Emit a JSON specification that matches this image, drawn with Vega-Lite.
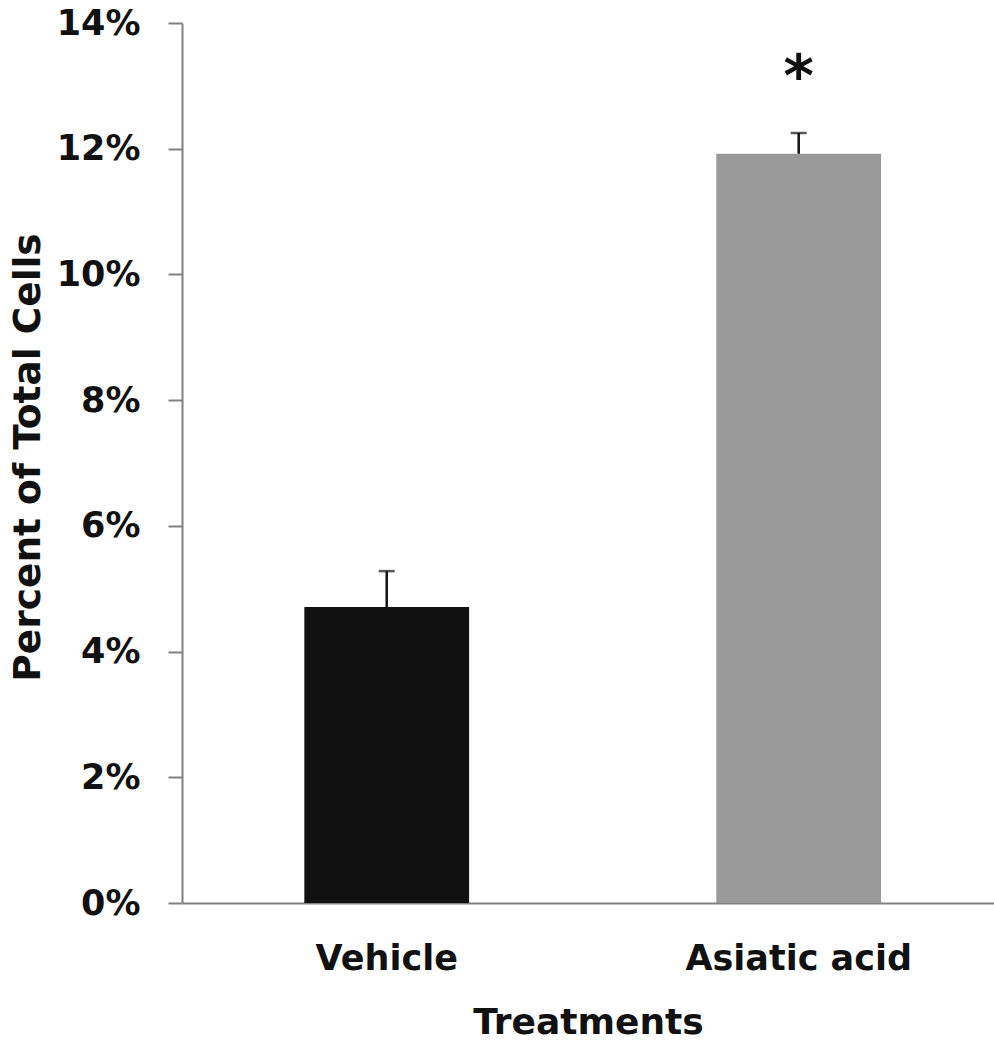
{
  "$schema": "https://vega.github.io/schema/vega-lite/v6.json",
  "width": 812,
  "height": 880,
  "autosize": "none",
  "padding": {"left": 182, "top": 23, "right": 0, "bottom": 137},
  "background": "white",
  "config": {"view": {"stroke": null}, "font": "DejaVu Sans"},
  "data": {
    "values": [
      {"treatment": "Vehicle", "value": 0.0471, "upper": 0.0528, "sig": ""},
      {"treatment": "Asiatic acid", "value": 0.1192, "upper": 0.1225, "sig": "*"}
    ]
  },
  "encoding": {
    "x": {
      "field": "treatment",
      "type": "nominal",
      "sort": ["Vehicle", "Asiatic acid"],
      "title": "Treatments",
      "scale": {"paddingInner": 0.6, "paddingOuter": 0.2855, "align": 0.52},
      "axis": {
        "labelAngle": 0,
        "labelFont": "DejaVu Sans",
        "labelFontSize": 35,
        "labelFontWeight": "bold",
        "labelColor": "#111111",
        "labelPadding": 38,
        "labelLimit": 0,
        "ticks": false,
        "domainColor": "#808080",
        "domainWidth": 2,
        "titleFont": "DejaVu Sans",
        "titleFontSize": 36,
        "titleFontWeight": "bold",
        "titleColor": "#111111",
        "titleY": 119,
        "titleBaseline": "middle"
      }
    }
  },
  "layer": [
    {
      "mark": {"type": "bar"},
      "encoding": {
        "y": {
          "field": "value",
          "type": "quantitative",
          "title": "Percent of Total Cells",
          "scale": {"domain": [0, 0.14], "nice": false},
          "axis": {
            "values": [0, 0.02, 0.04, 0.06, 0.08, 0.1, 0.12, 0.14],
            "format": ".0%",
            "grid": false,
            "tickSize": 14,
            "tickColor": "#808080",
            "tickWidth": 2,
            "domainColor": "#808080",
            "domainWidth": 2,
            "labelFont": "DejaVu Sans",
            "labelFontSize": 35,
            "labelFontWeight": "bold",
            "labelColor": "#111111",
            "labelPadding": 28,
            "titleFont": "DejaVu Sans",
            "titleFontSize": 37.5,
            "titleFontWeight": "bold",
            "titleColor": "#111111",
            "titleX": -154,
            "titleY": 434,
            "titleAngle": -90,
            "titleAlign": "center",
            "titleBaseline": "middle"
          }
        },
        "color": {
          "field": "treatment",
          "type": "nominal",
          "scale": {"domain": ["Vehicle", "Asiatic acid"], "range": ["#111111", "#999999"]},
          "legend": null
        }
      }
    },
    {
      "mark": {"type": "rule", "color": "#111111", "strokeWidth": 2.5},
      "encoding": {
        "y": {"field": "value", "type": "quantitative"},
        "y2": {"field": "upper"}
      }
    },
    {
      "mark": {"type": "tick", "color": "#111111", "thickness": 2.5, "size": 16},
      "encoding": {
        "y": {"field": "upper", "type": "quantitative"}
      }
    },
    {
      "mark": {"type": "text", "fontSize": 58, "font": "DejaVu Sans", "fontWeight": "bold", "baseline": "alphabetic", "dy": -37, "color": "#111111"},
      "encoding": {
        "y": {"field": "upper", "type": "quantitative"},
        "text": {"field": "sig"}
      }
    }
  ]
}
